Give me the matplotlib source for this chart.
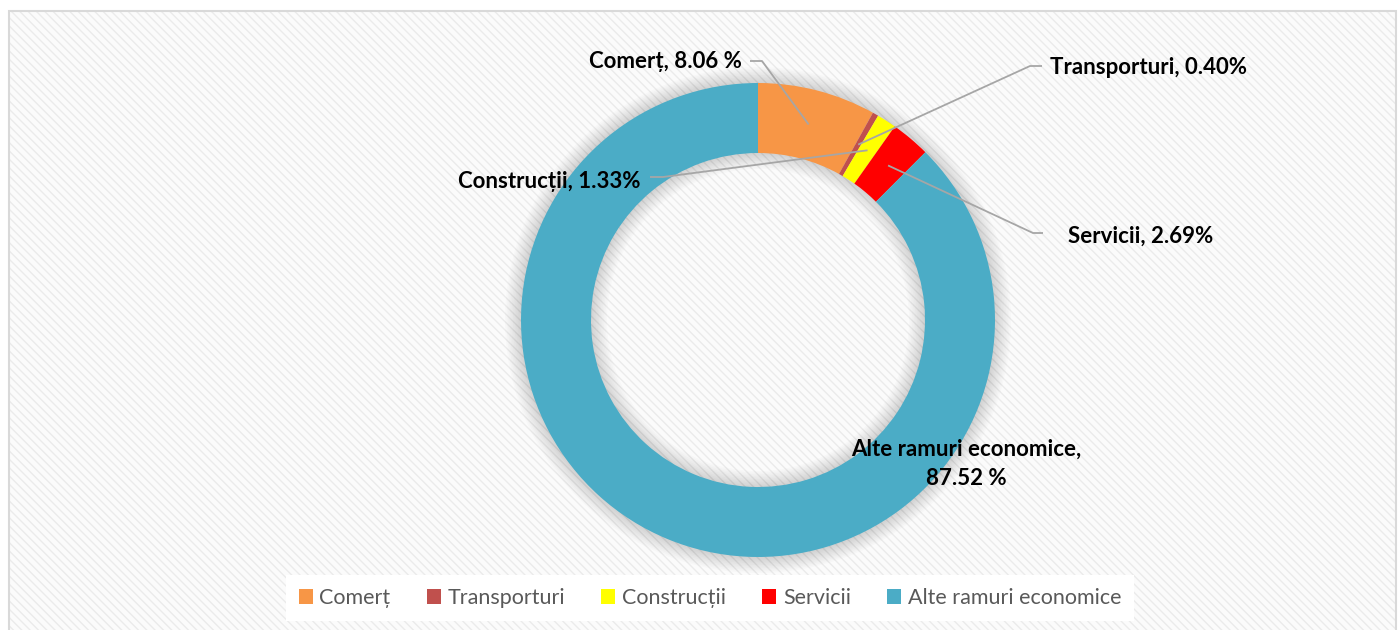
import matplotlib.pyplot as plt
from matplotlib.patches import Rectangle, Wedge, Patch
import numpy as np

categories = ["Comerț", "Transporturi", "Construcții", "Servicii", "Alte ramuri economice"]
shares = [8.06, 0.40, 1.33, 2.69, 87.52]
label_texts = [
    "Comerț, 8.06 %",
    "Transporturi, 0.40%",
    "Construcții, 1.33%",
    "Servicii, 2.69%",
    "Alte ramuri economice,\n87.52 %",
]
colors = ["#F79646", "#C0504D", "#FFFF00", "#FF0000", "#4BACC6"]

plt.rcParams["font.family"] = ["Lato", "DejaVu Sans"]
plt.rcParams["hatch.linewidth"] = 1.0

W, H = 1398, 630
fig = plt.figure(figsize=(W / 100, H / 100), dpi=100)
ax = fig.add_axes([0, 0, 1, 1])

# striped chart area with a thin grey border
ax.add_patch(Rectangle((9, -5), 1387, H - 11 + 5, facecolor="#fbfbfb",
                       edgecolor="#ebebeb", hatch="\\\\\\\\", linewidth=0, zorder=0))
ax.add_patch(Rectangle((9, -5), 1387, H - 11 + 5, facecolor="none",
                       edgecolor="#d9d9d9", linewidth=1.5, zorder=0.5))

cx, cy = 758, 310
r_out = 237
ring = 70

# soft shadow around the ring
for i in range(1, 11):
    d = i * 1.6
    ax.add_patch(Wedge((cx, cy), r_out + d, 0, 360, width=ring + 2 * d,
                       facecolor="black", edgecolor="none", alpha=0.014, zorder=1))

ax.pie(shares, colors=colors, startangle=90, counterclock=False,
       radius=r_out, center=(cx, cy), frame=True,
       wedgeprops=dict(width=ring, edgecolor="none", zorder=2))

# anchor of each leader line: middle of the wedge, halfway through the ring
cum = np.cumsum(shares) - np.array(shares) / 2
theta = np.deg2rad(90 - cum / sum(shares) * 360)
r_mid = r_out - ring / 2
anchors = list(zip(cx + r_mid * np.cos(theta), cy + r_mid * np.sin(theta)))

line_col = "#a6a6a6"
label_font = dict(fontsize=16, fontweight="bold", color="black", zorder=5)

# (text x, text y, ha, elbow, line end)
placements = [
    (742, 62, "right", (762, 61), (750, 61)),
    (1050, 68, "left", (1030, 66), (1042, 66)),
    (641, 181, "right", (663, 177), (650, 177)),
    (1068, 236, "left", (1033, 233), (1043, 233)),
]
for i, (tx, ty, ha, elbow, end) in enumerate(placements):
    px, py = anchors[i]
    ax.plot([px, elbow[0], end[0]], [py, H - elbow[1], H - end[1]],
            color=line_col, lw=1.3, zorder=4, solid_capstyle="butt")
    ax.text(tx, H - ty, label_texts[i], ha=ha, va="center", **label_font)

ax.text(966, H - 464, label_texts[4], ha="center", va="center",
        linespacing=1.5, **label_font)

ax.set_xlim(0, W)
ax.set_ylim(0, H)
ax.set_aspect("equal")
ax.axis("off")

handles = [Patch(facecolor=c, edgecolor="none") for c in colors]
leg = fig.legend(handles, categories, loc="center", bbox_to_anchor=(710 / W, 1 - 598 / H),
                 ncol=5, frameon=True, facecolor="white", edgecolor="none", fancybox=False,
                 framealpha=1, handlelength=0.65, handleheight=0.65, handletextpad=0.3,
                 columnspacing=1.7, fontsize=15.5, labelcolor="#595959", borderpad=0.6)

fig.savefig("out.png", dpi=100)
